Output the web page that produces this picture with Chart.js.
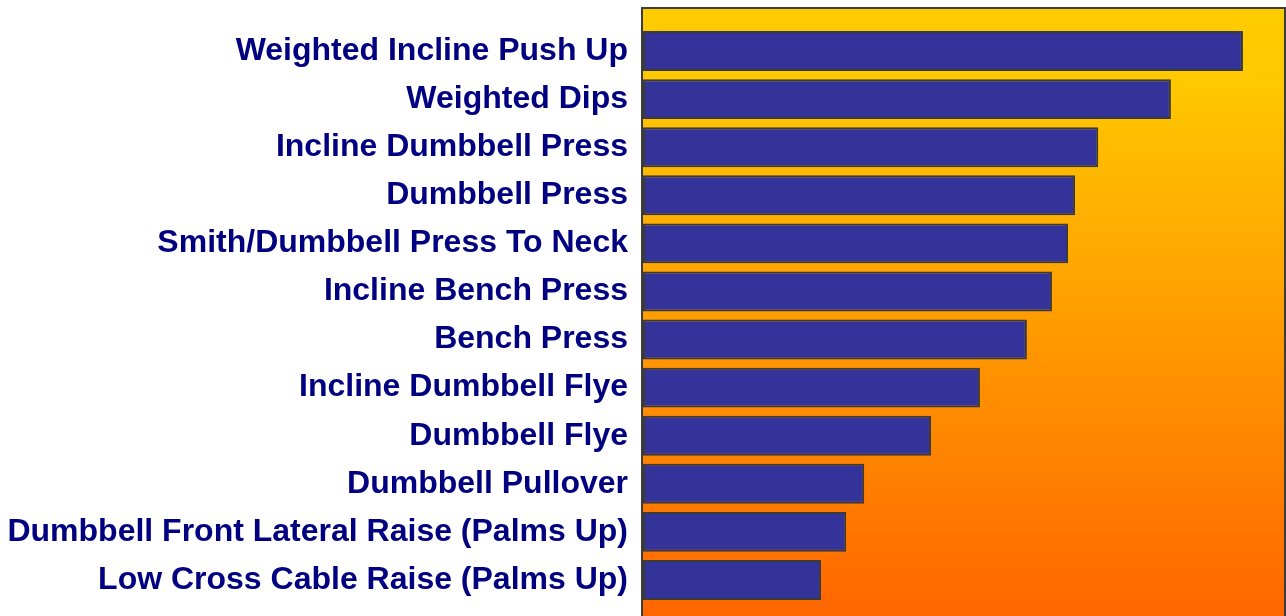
<!DOCTYPE html>
<html>
<head>
<meta charset="utf-8">
<script src="https://cdn.jsdelivr.net/npm/chart.js@4.4.1/dist/chart.umd.min.js"></script>
<style>
  html, body { margin: 0; padding: 0; background: #fff; }
  #wrap { width: 1286px; height: 616px; position: relative; }
</style>
</head>
<body>
<div id="wrap"><canvas id="myChart"></canvas></div>
<script>
const exercises = [
  'Weighted Incline Push Up',
  'Weighted Dips',
  'Incline Dumbbell Press',
  'Dumbbell Press',
  'Smith/Dumbbell Press To Neck',
  'Incline Bench Press',
  'Bench Press',
  'Incline Dumbbell Flye',
  'Dumbbell Flye',
  'Dumbbell Pullover',
  'Dumbbell Front Lateral Raise (Palms Up)',
  'Low Cross Cable Raise (Palms Up)'
];
const activation = [93.3, 82.1, 70.8, 67.2, 66.1, 63.6, 59.7, 52.4, 44.8, 34.4, 31.6, 27.7];
const axisMax = 100;

// gradient panel behind the bars, a bit taller than the chart area
const panelBg = {
  id: 'panelBg',
  beforeDatasetsDraw(chart) {
    const c = chart.ctx;
    const a = chart.chartArea;
    const top = 8;
    const bottom = chart.height;
    const g = c.createLinearGradient(0, top, 0, bottom);
    g.addColorStop(0, '#FFCC00');
    g.addColorStop(0.12, '#FFC800');
    g.addColorStop(1, '#FF6600');
    c.save();
    c.fillStyle = g;
    c.fillRect(a.left, top, chart.width - a.left, bottom - top);
    c.strokeStyle = '#3c3c3c';
    c.lineWidth = 2;
    c.beginPath();
    c.moveTo(a.left - 1, bottom);
    c.lineTo(a.left - 1, top);
    c.lineTo(chart.width - 1, top);
    c.lineTo(chart.width - 1, bottom);
    c.stroke();
    c.restore();
  }
};

new Chart(document.getElementById('myChart'), {
  type: 'bar',
  data: {
    labels: exercises,
    datasets: [{
      data: activation,
      backgroundColor: '#333399',
      borderColor: '#3a3a3a',
      borderWidth: 2,
      borderSkipped: false,
      categoryPercentage: 1,
      barPercentage: 0.83
    }]
  },
  options: {
    indexAxis: 'y',
    responsive: true,
    maintainAspectRatio: false,
    animation: false,
    layout: { padding: { top: 27, bottom: 12, left: 0, right: 0 } },
    plugins: { legend: { display: false }, tooltip: { enabled: false } },
    scales: {
      x: { display: false, min: 0, max: axisMax },
      y: {
        afterFit(scale) {
          scale.width = 643;
          scale.paddingTop = 0;
          scale.paddingBottom = 0;
        },
        grid: { display: false, drawTicks: false },
        border: { display: false },
        ticks: {
          padding: 15,
          color: '#000080',
          font: { family: '"Liberation Sans", Arial, sans-serif', size: 32, weight: 'bold' }
        }
      }
    }
  },
  plugins: [panelBg]
});
</script>
</body>
</html>
